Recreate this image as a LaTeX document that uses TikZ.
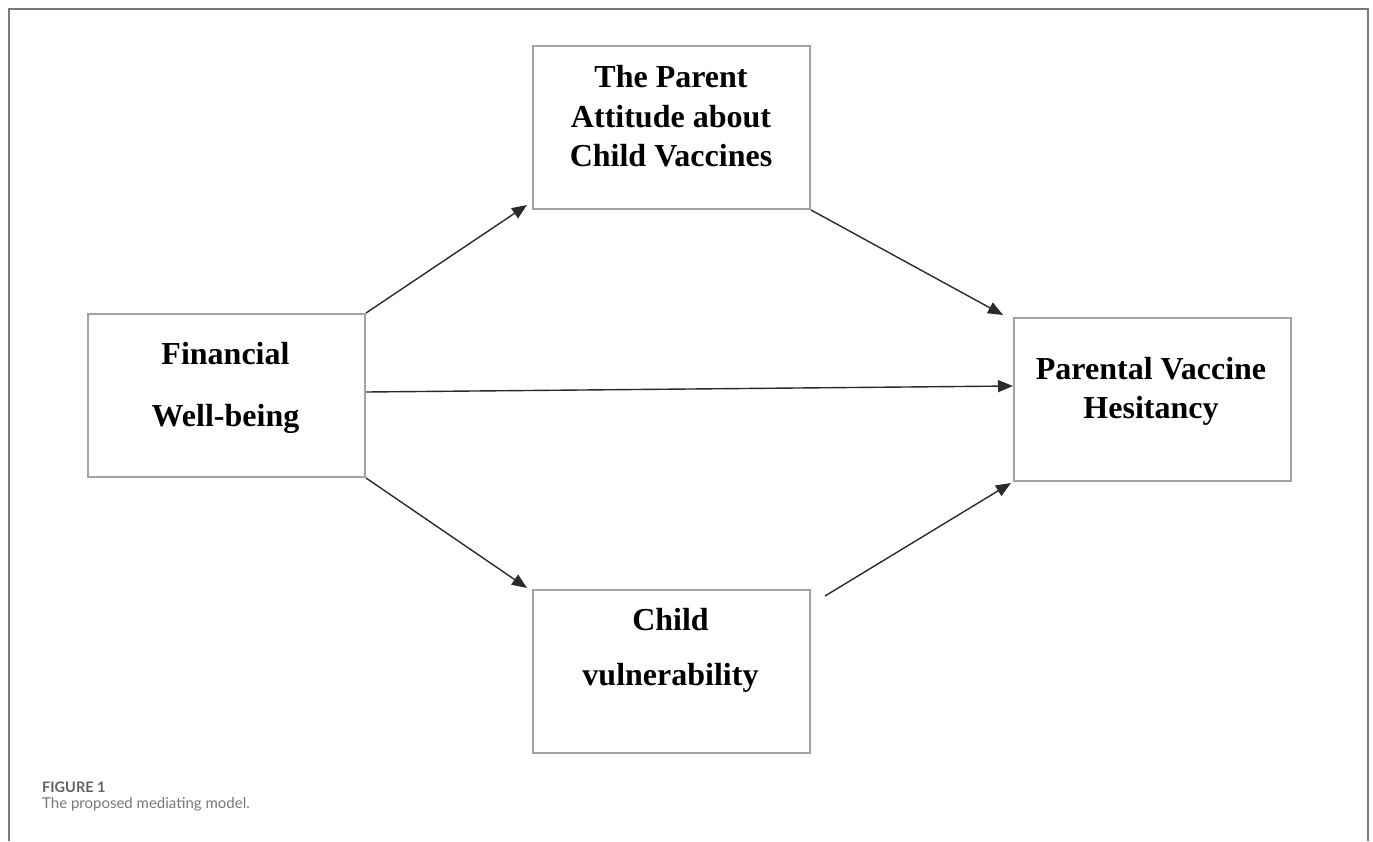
\documentclass[tikz,border=0pt]{standalone}
\usepackage{fontspec}
\setmainfont{Liberation Serif}
\newfontfamily\capfont{Lato}
\usetikzlibrary{arrows.meta}
\definecolor{boxgray}{HTML}{A2A2A2}
\definecolor{framegray}{HTML}{7A7A7A}
\definecolor{capgray}{HTML}{626262}
\definecolor{captextgray}{HTML}{777777}
\definecolor{arrowcol}{HTML}{2A2A2A}
\begin{document}
\begin{tikzpicture}[x=1pt,y=-1pt,
  box/.style={draw=boxgray, line width=2pt, minimum width=277pt, minimum height=163pt, anchor=north west, inner sep=0pt},
  conn/.style={draw=arrowcol, line width=1.4pt, -{Triangle[length=15pt,width=12pt]}},
  lbl/.style={font=\fontsize{32}{38}\selectfont\bfseries, anchor=base, inner sep=0pt},
  capt/.style={anchor=base west, inner sep=0pt}]
\useasboundingbox (0,0) rectangle (1373,841);
% frame
\draw[framegray, line width=2pt] (9,841) -- (9,9) -- (1368,9) -- (1368,841);
% boxes
\node[box] (pa) at (532,45) {};
\node[box] (fw) at (87,313) {};
\node[box] (pvh) at (1013,317) {};
\node[box] (cv) at (532,589) {};
% texts
\node[lbl] (pa1) at (671,87) {The Parent};
\node[lbl] (pa2) at (671,127) {Attitude about};
\node[lbl] (pa3) at (671,166) {Child Vaccines};
\node[lbl] (fw1) at (225.5,364) {Financial};
\node[lbl] (fw2) at (225.5,426) {Well-being};
\node[lbl] (pvh1) at (1151,379) {Parental Vaccine};
\node[lbl] (pvh2) at (1151,418) {Hesitancy};
\node[lbl] (cv1) at (670.5,630) {Child};
\node[lbl] (cv2) at (670.5,685) {vulnerability};
% connectors
\draw[conn] (fw.north east) -- ([shift={(-5,-5)}]pa.south west);
\draw[conn] (pa.south east) -- ([shift={(-10,-2)}]pvh.north west);
\draw[conn] ([shift={(0,-3.5)}]fw.east) -- ([shift={(0,-13.5)}]pvh.west);
\draw[conn] (fw.south east) -- ([shift={(-5,-1)}]cv.north west);
\draw[conn] ([shift={(14,7)}]cv.north east) -- ([shift={(-2,1)}]pvh.south west);
% caption
\node[capt, font=\capfont\bfseries\fontsize{14.5}{17}\selectfont, text=capgray] (cap1) at (42,792) {FIGURE 1};
\node[capt, font=\capfont\fontsize{15}{18}\selectfont, text=captextgray] (cap2) at (42,808) {The proposed mediating model.};
\end{tikzpicture}
\end{document}
